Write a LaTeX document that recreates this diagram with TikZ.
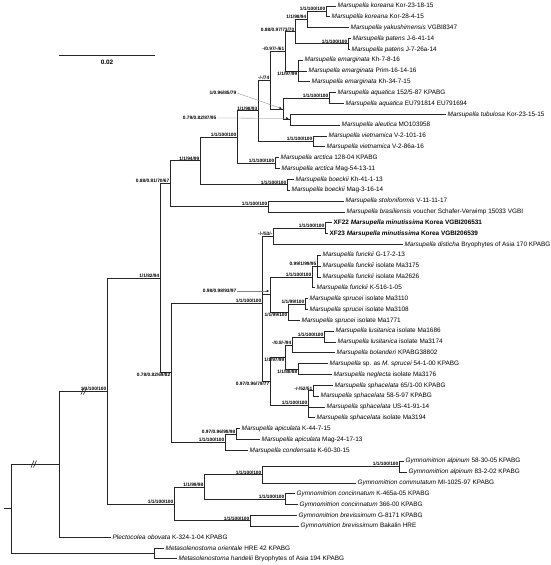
\documentclass[tikz,border=0pt]{standalone}
\usepackage{fontspec}
\setmainfont{Liberation Sans}
\usetikzlibrary{arrows.meta}

\newcommand{\taxon}[1]{\textit{#1}}

\begin{document}
\begin{tikzpicture}[x=1pt, y=-1pt,
	tiplab/.style={anchor=west, inner xsep=1.5pt, inner ysep=0pt, font=\fontsize{6.4}{7}\selectfont},
	suplab/.style={anchor=south east, inner sep=0.5pt, font=\fontsize{4.8}{5}\selectfont\bfseries},
	suplow/.style={suplab, anchor=north east},
	branch/.style={line width=0.9pt, black!85},
	leader/.style={gray, line width=0.3pt, -{Stealth[length=2.5pt, width=2pt, black]}}]
	\useasboundingbox (0,0) rectangle (550,565);

	% internal nodes
	\coordinate (stub) at (4,508.8);
	\coordinate (root) at (11,508.8);
	\coordinate (n59) at (59,464.1);
	\coordinate (meta) at (154,553.4);
	\coordinate (n107) at (107,391.1);
	\coordinate (n160) at (160,278.2);
	\coordinate (n170) at (170,183.7);
	\coordinate (n200) at (200,160.9);
	\coordinate (n237) at (237,137.0);
	\coordinate (n258) at (258,110.9);
	\coordinate (n270) at (270,80.2);
	\coordinate (n285) at (285,51.4);
	\coordinate (n295) at (295,31.8);
	\coordinate (n307) at (307,19.6);
	\coordinate (nkor) at (326,11.4);
	\coordinate (npat) at (348,43.9);
	\coordinate (nem) at (298,71.0);
	\coordinate (naq1) at (283,109.0);
	\coordinate (naq) at (329,98.1);
	\coordinate (ntub) at (290,119.8);
	\coordinate (nvie) at (313,141.5);
	\coordinate (narc) at (275,163.2);
	\coordinate (nboe) at (287,184.9);
	\coordinate (nsto) at (268,206.5);
	\coordinate (n171) at (171,372.7);
	\coordinate (n262) at (262,303.0);
	\coordinate (nmd) at (273,236.4);
	\coordinate (nmin) at (325,228.2);
	\coordinate (nfs) at (270,294.6);
	\coordinate (nfu1) at (312,277.0);
	\coordinate (nfu2) at (317,266.2);
	\coordinate (nsp1) at (288,312.2);
	\coordinate (nsp2) at (305,304.1);
	\coordinate (nls) at (270,381.5);
	\coordinate (nl1) at (285,357.8);
	\coordinate (nl2) at (292,345.6);
	\coordinate (nlus) at (324,337.6);
	\coordinate (nsn) at (298,369.1);
	\coordinate (nsph) at (308,405.2);
	\coordinate (nsp52) at (313,390.8);
	\coordinate (napc) at (225,442.3);
	\coordinate (napi) at (236,434.2);
	\coordinate (g0) at (174,504.0);
	\coordinate (g1) at (204,487.0);
	\coordinate (g2) at (262,474.8);
	\coordinate (galp) at (399,466.7);
	\coordinate (gcon) at (285,499.2);
	\coordinate (gbrev) at (250,520.9);

	% tips
	\node[tiplab] (t1) at (336,6.0) {\taxon{Marsupella koreana} Kor-23-18-15};
	\node[tiplab] (t2) at (330,16.8) {\taxon{Marsupella koreana} Kor-28-4-15};
	\node[tiplab] (t3) at (349,27.7) {\taxon{Marsupella yakushimensis} VGBI8347};
	\node[tiplab] (t4) at (351,38.5) {\taxon{Marsupella patens} J-6-41-14};
	\node[tiplab] (t5) at (350,49.4) {\taxon{Marsupella patens} J-7-26a-14};
	\node[tiplab] (t6) at (303,60.2) {\taxon{Marsupella emarginata} Kh-7-8-16};
	\node[tiplab] (t7) at (307,71.0) {\taxon{Marsupella emarginata} Prim-16-14-16};
	\node[tiplab] (t8) at (310,81.9) {\taxon{Marsupella emarginata} Kh-34-7-15};
	\node[tiplab] (t9) at (336,92.7) {\taxon{Marsupella aquatica} 152/5-87 KPABG};
	\node[tiplab] (t10) at (344,103.6) {\taxon{Marsupella aquatica} EU791814 EU791694};
	\node[tiplab] (t11) at (446,114.4) {\taxon{Marsupella tubulosa} Kor-23-15-15};
	\node[tiplab] (t12) at (340,125.2) {\taxon{Marsupella aleutica} MO103958};
	\node[tiplab] (t13) at (327,136.1) {\taxon{Marsupella vietnamica} V-2-101-16};
	\node[tiplab] (t14) at (325,146.9) {\taxon{Marsupella vietnamica} V-2-86a-16};
	\node[tiplab] (t15) at (279,157.8) {\taxon{Marsupella arctica} 128-04 KPABG};
	\node[tiplab] (t16) at (280,168.6) {\taxon{Marsupella arctica} Mag-54-13-11};
	\node[tiplab] (t17) at (294,179.4) {\taxon{Marsupella boeckii} Kh-41-1-13};
	\node[tiplab] (t18) at (290,190.3) {\taxon{Marsupella boeckii} Mag-3-16-14};
	\node[tiplab] (t19) at (344,201.1) {\taxon{Marsupella stoloniformis} V-11-11-17};
	\node[tiplab] (t20) at (345,212.0) {\taxon{Marsupella brasiliensis} voucher Schafer-Verwimp 15033 VGBI};
	\node[tiplab] (t21) at (332,222.8) {\bfseries XF22 \taxon{Marsupella minutissima} Korea VGBI206531};
	\node[tiplab] (t22) at (328,233.6) {\bfseries XF23 \taxon{Marsupella minutissima} Korea VGBI206539};
	\node[tiplab] (t23) at (403,244.5) {\taxon{Marsupella disticha} Bryophytes of Asia 170 KPABG};
	\node[tiplab] (t24) at (321,255.3) {\taxon{Marsupella funckii} G-17-2-13};
	\node[tiplab] (t25) at (321,266.2) {\taxon{Marsupella funckii} isolate Ma3175};
	\node[tiplab] (t26) at (321,277.0) {\taxon{Marsupella funckii} isolate Ma2626};
	\node[tiplab] (t27) at (315,287.8) {\taxon{Marsupella funckii} K-516-1-05};
	\node[tiplab] (t28) at (308,298.7) {\taxon{Marsupella sprucei} isolate Ma3110};
	\node[tiplab] (t29) at (308,309.5) {\taxon{Marsupella sprucei} isolate Ma3108};
	\node[tiplab] (t30) at (300,320.4) {\taxon{Marsupella sprucei} isolate Ma1771};
	\node[tiplab] (t31) at (334,331.2) {\taxon{Marsupella lusitanica} isolate Ma1686};
	\node[tiplab] (t32) at (336,342.0) {\taxon{Marsupella lusitanica} isolate Ma3174};
	\node[tiplab] (t33) at (335,352.9) {\taxon{Marsupella bolanderi} KPABG38802};
	\node[tiplab] (t34) at (328,363.7) {\taxon{Marsupella} sp. as \taxon{M. sprucei} 54-1-00 KPABG};
	\node[tiplab] (t35) at (332,374.6) {\taxon{Marsupella neglecta} isolate Ma3176};
	\node[tiplab] (t36) at (333,385.4) {\taxon{Marsupella sphacelata} 65/1-00 KPABG};
	\node[tiplab] (t37) at (319,396.2) {\taxon{Marsupella sphacelata} 58-5-97 KPABG};
	\node[tiplab] (t38) at (325,407.1) {\taxon{Marsupella sphacelata} US-41-91-14};
	\node[tiplab] (t39) at (315,417.9) {\taxon{Marsupella sphacelata} isolate Ma3194};
	\node[tiplab] (t40) at (240,428.8) {\taxon{Marsupella apiculata} K-44-7-15};
	\node[tiplab] (t41) at (260,439.6) {\taxon{Marsupella apiculata} Mag-24-17-13};
	\node[tiplab] (t42) at (248,450.4) {\taxon{Marsupella condensata} K-60-30-15};
	\node[tiplab] (t43) at (404,461.3) {\taxon{Gymnomitrion alpinum} 58-30-05 KPABG};
	\node[tiplab] (t44) at (407,472.1) {\taxon{Gymnomitrion alpinum} 83-2-02 KPABG};
	\node[tiplab] (t45) at (356,483.0) {\taxon{Gymnomitrion commutatum} MI-1025-97 KPABG};
	\node[tiplab] (t46) at (295,493.8) {\taxon{Gymnomitrion concinnatum} K-465a-05 KPABG};
	\node[tiplab] (t47) at (298,504.6) {\taxon{Gymnomitrion concinnatum} 366-00 KPABG};
	\node[tiplab] (t48) at (297,515.5) {\taxon{Gymnomitrion brevissimum} G-8171 KPABG};
	\node[tiplab] (t49) at (299,526.3) {\taxon{Gymnomitrion brevissimum} Bakalin HRE};
	\node[tiplab] (t50) at (111,537.2) {\taxon{Plectocolea obovata} K-324-1-04 KPABG};
	\node[tiplab] (t51) at (164,548.0) {\taxon{Metasolenostoma orientale} HRE 42 KPABG};
	\node[tiplab] (t52) at (177,558.8) {\taxon{Metasolenostoma handelii} Bryophytes of Asia 194 KPABG};

	% branches
	\begin{scope}[branch]
		\draw (stub) -- (root);
		\draw (root) |- (n59) (root) |- (meta);
		\draw (meta) |- (t51) (meta) |- (t52);
		\draw (n59) |- (n107) (n59) |- (t50);
		\draw (n107) |- (n160) (n107) |- (g0);
		\draw (n160) |- (n170) (n160) |- (n171);
		\draw (n170) |- (n200) (n170) |- (nsto);
		\draw (n200) |- (n237) (n200) |- (nboe);
		\draw (n237) |- (n258) (n237) |- (narc);
		\draw (n258) |- (n270) (n258) |- (nvie);
		\draw (n270) |- (n285) (n270) |- (naq1);
		\draw (n285) |- (n295) (n285) |- (nem);
		\draw (n295) |- (n307) (n295) |- (npat);
		\draw (n307) |- (nkor) (n307) |- (t3);
		\draw (nkor) |- (t1) (nkor) |- (t2);
		\draw (npat) |- (t4) (npat) |- (t5);
		\draw (nem) |- (t6) (nem) |- (t7) (nem) |- (t8);
		\draw (naq1) |- (naq) (naq1) |- (ntub);
		\draw (naq) |- (t9) (naq) |- (t10);
		\draw (ntub) |- (t11) (ntub) |- (t12);
		\draw (nvie) |- (t13) (nvie) |- (t14);
		\draw (narc) |- (t15) (narc) |- (t16);
		\draw (nboe) |- (t17) (nboe) |- (t18);
		\draw (nsto) |- (t19) (nsto) |- (t20);
		\draw (n171) |- (n262) (n171) |- (napc);
		\draw (n262) |- (nmd) (n262) |- (nfs) (n262) |- (nls);
		\draw (nmd) |- (nmin) (nmd) |- (t23);
		\draw (nmin) |- (t21) (nmin) |- (t22);
		\draw (nfs) |- (nfu1) (nfs) |- (nsp1);
		\draw (nfu1) |- (nfu2) (nfu1) |- (t27);
		\draw (nfu2) |- (t24) (nfu2) |- (t25) (nfu2) |- (t26);
		\draw (nsp1) |- (nsp2) (nsp1) |- (t30);
		\draw (nsp2) |- (t28) (nsp2) |- (t29);
		\draw (nls) |- (nl1) (nls) |- (nsph);
		\draw (nl1) |- (nl2) (nl1) |- (nsn);
		\draw (nl2) |- (nlus) (nl2) |- (t33);
		\draw (nlus) |- (t31) (nlus) |- (t32);
		\draw (nsn) |- (t34) (nsn) |- (t35);
		\draw (nsph) |- (nsp52) (nsph) |- (t38) (nsph) |- (t39);
		\draw (nsp52) |- (t36) (nsp52) |- (t37);
		\draw (napc) |- (napi) (napc) |- (t42);
		\draw (napi) |- (t40) (napi) |- (t41);
		\draw (g0) |- (g1) (g0) |- (gbrev);
		\draw (g1) |- (g2) (g1) |- (gcon);
		\draw (g2) |- (galp) (g2) |- (t45);
		\draw (galp) |- (t43) (galp) |- (t44);
		\draw (gcon) |- (t46) (gcon) |- (t47);
		\draw (gbrev) |- (t48) (gbrev) |- (t49);
		% breaks
		\draw[line width=0.6pt] (31,467.5) -- (34,460.5) (33.5,467.5) -- (36.5,460.5);
		\draw[line width=0.6pt] (81,394.5) -- (84,387.5) (83.5,394.5) -- (86.5,387.5);
	\end{scope}

	% support values
	\node[suplab] (l107) at (n107) {1/1/100/100};
	\node[suplab] (l160) at (n160) {1/1/82/94};
	\node[suplab] (l170) at (n170) {0.88/0.81/70/67};
	\node[suplab] (l200) at (n200) {1/1/94/99};
	\node[suplab] (l237) at (n237) {1/1/100/100};
	\node[suplab] (l258) at (n258) {1/1/98/93};
	\node[suplab] (l270) at (n270) {-/-/74};
	\node[suplab] (l285) at (n285) {-/0.97/-/61};
	\node[suplab] (l295) at (n295) {0.88/0.97/73/70};
	\node[suplab] (l307) at (n307) {1/1/98/94};
	\node[suplab] (lkor) at (nkor) {1/1/100/100};
	\node[suplab] (lpat) at (npat) {1/1/100/100};
	\node[suplow] (lem) at (nem) {1/1/97/99};
	\node[suplab] (laq) at (naq) {1/1/100/100};
	\node[suplab] (lvie) at (nvie) {1/1/100/100};
	\node[suplab] (larc) at (narc) {1/1/100/100};
	\node[suplab] (lboe) at (nboe) {1/1/100/100};
	\node[suplab] (lsto) at (nsto) {1/1/100/100};
	\node[suplow] (l171) at (n171) {0.78/0.82/69/82};
	\node[suplab] (l262) at (n262) {1/1/100/100};
	\node[suplab] (lmd) at (nmd) {-/-/53/-};
	\node[suplab] (lmin) at (nmin) {1/1/100/100};
	\node[suplab] (lfu1) at (nfu1) {1/1/100/100};
	\node[suplab] (lfu2) at (nfu2) {0.99/1/99/95};
	\node[suplow] (lsp1) at (nsp1) {1/1/99/100};
	\node[suplab] (lsp2) at (nsp2) {1/1/99/100};
	\node[suplow] (lls) at (nls) {0.97/0.96/79/77};
	\node[suplow] (ll1) at (nl1) {1/1/97/99};
	\node[suplab] (ll2) at (nl2) {-/0.8/-/94};
	\node[suplab] (llus) at (nlus) {1/1/100/100};
	\node[suplow] (lsn) at (nsn) {1/1/88/88};
	\node[suplab] (lsph) at (nsph) {1/1/100/100};
	\node[suplab] (lsp52) at (nsp52) {-/-/52/51};
	\node[suplab] (lapc) at (napc) {1/1/100/100};
	\node[suplab] (lapi) at (napi) {0.97/0.96/98/98};
	\node[suplab] (lg0) at (g0) {1/1/100/100};
	\node[suplab] (lg1) at (g1) {1/1/99/98};
	\node[suplab] (lg2) at (g2) {1/1/100/100};
	\node[suplab] (lalp) at (galp) {1/1/100/100};
	\node[suplab] (lcon) at (gcon) {1/1/100/100};
	\node[suplab] (lbrev) at (gbrev) {1/1/100/100};

	% values with leaders
	\node[suplab, anchor=east] (laq1) at (237,93) {1/0.96/85/79};
	\node[suplab, anchor=east] (ltub) at (217,118) {0.79/0.82/87/95};
	\node[suplab, anchor=east] (lfs) at (237,291) {0.98/0.98/93/97};
	\draw[leader, shorten >=1.5pt] (laq1.east) -- (naq1);
	\draw[leader, shorten >=1.5pt] (ltub.east) -- ([yshift=1.5pt]ntub);
	\draw[leader, shorten >=1pt] (lfs.east) -- ([yshift=3.6pt]nfs);

	% scale bar
	\coordinate (sbl) at (59,55);
	\coordinate (sbr) at (155,55);
	\draw[branch] (sbl) -- (sbr);
	\node[font=\fontsize{6.4}{7}\selectfont\bfseries] (sblab) at (107,62.5) {0.02};
\end{tikzpicture}
\end{document}
